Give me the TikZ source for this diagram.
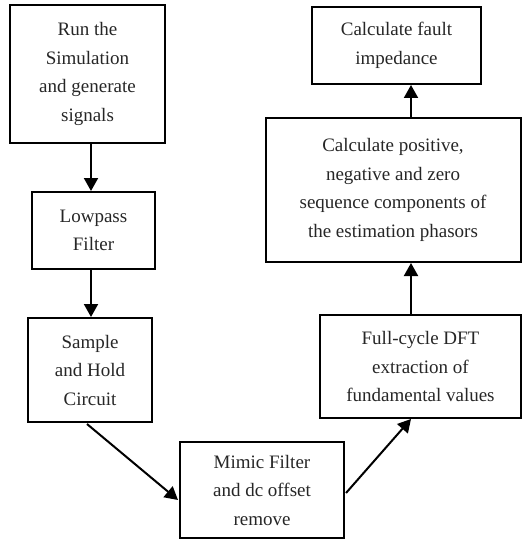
\documentclass[tikz,border=0pt]{standalone}
\usepackage{fontspec}
\setmainfont{Liberation Serif}
\usetikzlibrary{arrows.meta,calc}
\begin{document}
\begin{tikzpicture}[x=1pt,y=1pt,
  box/.style={draw=black,line width=2pt,align=center,inner sep=0pt,
    font=\fontsize{19}{28.5}\selectfont,text=black!85},
  arr/.style={line width=2pt,-{Triangle[length=13pt,width=14pt]}}]
\useasboundingbox (0,0) rectangle (522,-540);
\node[box,minimum width=155pt,minimum height=138pt] (b1) at (87.5,-74) {Run the\\Simulation\\and generate\\signals};
\node[box,minimum width=123pt,minimum height=77pt] (b2) at (93.5,-230.5) {Lowpass\\Filter};
\node[box,minimum width=124pt,minimum height=104pt] (b3) at (90,-370) {Sample\\and Hold\\Circuit};
\node[box,minimum width=164pt,minimum height=96pt] (b4) at (262,-490) {Mimic Filter\\and dc offset\\remove};
\node[box,minimum width=201pt,minimum height=103pt] (b5) at (420.5,-366.5) {Full-cycle DFT\\extraction of\\fundamental values};
\node[box,minimum width=255pt,minimum height=144pt] (b6) at (393,-190) {Calculate positive,\\negative and zero\\sequence components of\\the estimation phasors};
\node[box,minimum width=169pt,minimum height=77pt] (b7) at (396.5,-45.5) {Calculate fault\\impedance};
\coordinate (xl) at (91,0);
\coordinate (xr) at (411,0);
\draw[arr] (b1.south -| xl) -- (b2.north -| xl);
\draw[arr] (b2.south -| xl) -- (b3.north -| xl);
\draw[arr] ($(b3.south)+(-3,-1)$) -- ($(b4.west)+(-1,-10)$);
\draw[arr] ($(b4.east)+(1,-3)$) -- (b5.south -| xr);
\draw[arr] (b5.north -| xr) -- (b6.south -| xr);
\draw[arr] (b6.north -| xr) -- (b7.south -| xr);
\end{tikzpicture}
\end{document}
